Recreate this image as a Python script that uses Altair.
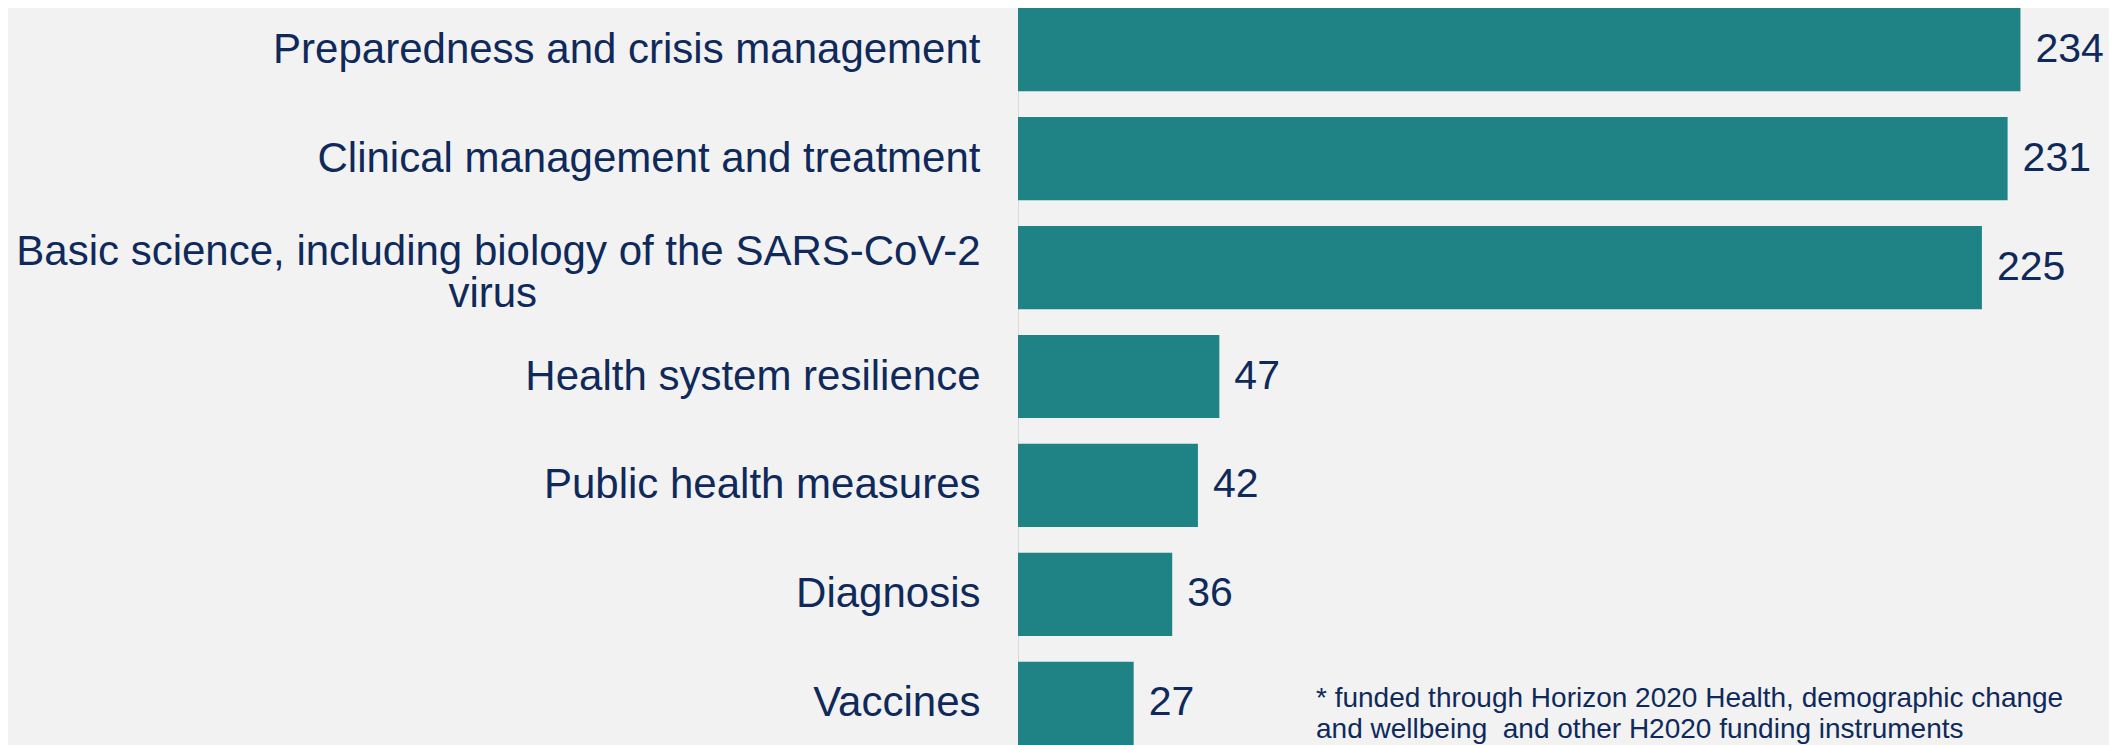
import altair as alt
import pandas as pd

categories = [
    "Preparedness and crisis management",
    "Clinical management and treatment",
    "Basic science, including biology of the SARS-CoV-2|virus",
    "Health system resilience",
    "Public health measures",
    "Diagnosis",
    "Vaccines",
]
projects = [234, 231, 225, 47, 42, 36, 27]
footnote_lines = [
    "* funded through Horizon 2020 Health, demographic change",
    "and wellbeing\u00a0 and other H2020 funding instruments",
]

NAVY = "#0f2a5a"
TEAL = "#1f8386"
BG = "#f2f2f2"
FONT = "Liberation Sans"
PAD = "\u00a0" * 38 + "\u200b"

df = pd.DataFrame({"topic": categories, "projects": projects})

label_expr = (
    "indexof(datum.label, '|') >= 0 ? "
    "[split(datum.label, '|')[0], split(datum.label, '|')[1] + '" + PAD + "'] : datum.label"
)

y_enc = alt.Y(
    "topic:N",
    sort=categories,
    scale=alt.Scale(paddingInner=0.236, paddingOuter=0),
    axis=alt.Axis(
        title=None,
        ticks=False,
        labelFontSize=42,
        labelFont=FONT,
        labelColor=NAVY,
        labelPadding=38,
        labelLimit=1200,
        labelLineHeight=42,
        labelExpr=label_expr,
        labelOffset={"condition": {"test": "indexof(datum.label, '|') >= 0", "value": -16}, "value": 0},
        domain=True,
        domainColor="#dadada",
        domainWidth=1,
        grid=False,
    ),
)
x_enc = alt.X(
    "projects:Q",
    scale=alt.Scale(domain=[0, 250], nice=False),
    axis=None,
)

bars = alt.Chart(df).mark_bar(color=TEAL).encode(y=y_enc, x=x_enc)
values = alt.Chart(df).mark_text(
    align="left", baseline="middle", dx=15, fontSize=41, font=FONT, color=NAVY
).encode(y=alt.Y("topic:N", sort=categories), x="projects:Q", text="projects:Q")

note = alt.Chart(pd.DataFrame({"k": [0]})).mark_text(
    align="left", baseline="alphabetic", fontSize=28, font=FONT, color=NAVY, lineHeight=31
).encode(x=alt.value(298), y=alt.value(699), text=alt.value(footnote_lines))

chart = (
    alt.layer(bars, values, note)
    .properties(
        width=1071,
        height=737,
        padding={"left": 1010, "top": 0, "right": 20, "bottom": 0},
        autosize=alt.AutoSizeParams(type="none"),
        background=BG,
    )
    .configure_view(stroke=None)
)

chart.save("out.html", embed_options={"renderer": "svg", "actions": False})
